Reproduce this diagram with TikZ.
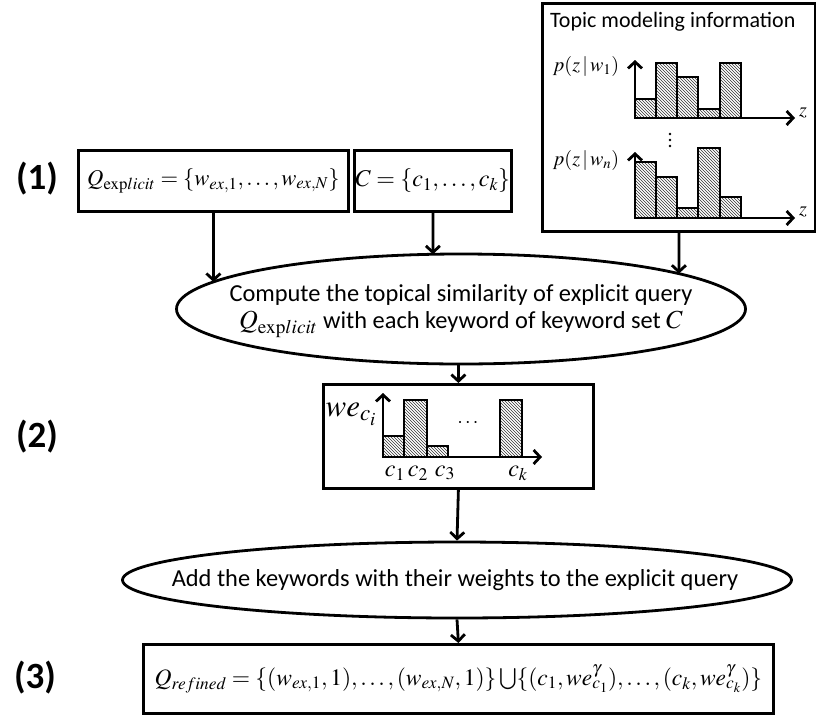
\documentclass[tikz,border=0pt]{standalone}
\usepackage{mathptmx}
\usepackage[no-math]{fontspec}
\setmainfont{Carlito}
\usetikzlibrary{arrows.meta,shapes.geometric,patterns,intersections}

\tikzset{
  flow/.style={line width=2.8pt,-{Straight Barb[length=6.5pt,width=14pt]}},
  axisline/.style={line width=2.8pt,-{Straight Barb[length=6.5pt,width=14pt]}},
  bar/.style={line width=2.4pt,pattern=north west lines,pattern color=black!80},
  framebox/.style={draw,line width=2.8pt,inner sep=0pt},
  oval/.style={draw,ellipse,line width=2.8pt,inner sep=0pt},
  steplabel/.style={font=\fontsize{37}{40}\selectfont\bfseries,inner sep=0pt},
  mathtext/.style={font=\fontsize{22.6}{27}\selectfont,inner sep=0pt},
  plaintext/.style={font=\fontsize{24.4}{29}\selectfont,inner sep=0pt},
  smallmath/.style={font=\fontsize{20}{24}\selectfont,inner sep=0pt},
  labelmath/.style={font=\fontsize{24}{28}\selectfont,inner sep=0pt},
}

\begin{document}
\begin{tikzpicture}[x=1pt,y=-1pt]
\useasboundingbox (0,0) rectangle (816,715);

% ---------- topic model panel ----------
\node[framebox,minimum width=273pt,minimum height=228pt,anchor=north west] (topic) at (541,2) {};
\node[font=\fontsize{22}{26}\selectfont,inner sep=0pt,anchor=west] (topictitle) at (550,22) {Topic modeling information};

% first word distribution
\draw[bar] (635,118) rectangle (656,99);
\draw[bar] (656,118) rectangle (677,63);
\draw[bar] (677,118) rectangle (698,77);
\draw[bar] (698,118) rectangle (720,109);
\draw[bar] (720,118) rectangle (741,63);
\coordinate (oA) at (635,118);
\coordinate (yA) at (635,60);
\coordinate (xA) at (795,118);
\draw[axisline] (oA) -- (yA);
\draw[axisline] (oA) -- (xA);
\node[smallmath] (pw1) at (586,66) {$p(z\,|\,w_{1})$};
\node[smallmath,anchor=west] (zA) at (799,113) {$z$};
% vertical ellipsis between the two distributions
\foreach \yy in {134,140,146} \fill (670,\yy) circle[radius=1.4pt];

% last word distribution
\draw[bar] (635,218) rectangle (656,162);
\draw[bar] (656,218) rectangle (677,177);
\draw[bar] (677,218) rectangle (698,208);
\draw[bar] (698,218) rectangle (720,148);
\draw[bar] (720,218) rectangle (741,197);
\coordinate (oB) at (635,218);
\coordinate (yB) at (635,152);
\coordinate (xB) at (795,218);
\draw[axisline] (oB) -- (yB);
\draw[axisline] (oB) -- (xB);
\node[smallmath] (pwn) at (586,160) {$p(z\,|\,w_{n})$};
\node[smallmath,anchor=west] (zB) at (799,212) {$z$};

% ---------- step (1) ----------
\node[steplabel] (s1) at (37,179) {(1)};
\node[framebox,minimum width=270pt,minimum height=61pt,anchor=north west] (qexp) at (77,149) {};
\node[mathtext] (qexptext) at (qexp) {$Q_{\mathrm{exp}licit}=\{w_{ex,1},\ldots,w_{ex,N}\}$};
\node[framebox,minimum width=157pt,minimum height=61pt,anchor=north west] (cset) at (353,149) {};
\node[font=\fontsize{24}{28}\selectfont,inner sep=0pt] (csettext) at (cset) {$C=\{c_{1},\ldots,c_{k}\}$};

\node[oval,minimum width=569pt,minimum height=110pt,name path=e1path] (e1) at (461,309) {};
\node[plaintext,align=center] (e1text) at (461,311)
  {Compute the topical similarity of explicit query\\[-2pt]
   {\fontsize{26}{26}\selectfont$Q_{\mathrm{exp}licit}$} with each keyword of keyword set {\fontsize{26}{26}\selectfont$C$}};

\path[name path=vq] (qexp.south) -- ++(0,150);
\path[name path=vc] (cset.south) -- ++(0,150);
\path[name path=vt] (topic.south) -- ++(0,150);
\draw[flow,name intersections={of=vq and e1path}] (qexp.south) -- (intersection-1);
\draw[flow,name intersections={of=vc and e1path}] (cset.south) -- (intersection-1);
\draw[flow,name intersections={of=vt and e1path}] (topic.south) -- (intersection-1);

% ---------- step (2) ----------
\node[steplabel] (s2) at (37,437) {(2)};
\node[framebox,minimum width=270pt,minimum height=104pt,anchor=north west] (b2) at (322,383) {};

\draw[bar] (383,457) rectangle (404,436);
\draw[bar] (404,457) rectangle (427,400);
\draw[bar] (427,457) rectangle (448,446);
\draw[bar] (500,457) rectangle (522,400);
\coordinate (oC) at (383,457);
\coordinate (yC) at (383,393);
\coordinate (xC) at (542,457);
\draw[axisline] (oC) -- (yC);
\draw[axisline] (oC) -- (xC);
\node[font=\fontsize{31}{34}\selectfont,inner sep=0pt] (wlabel) at (351,414) {$we_{c_{i}}$};
\node[smallmath] (dots) at (468,423) {$\cdots$};
\node[labelmath] (c1) at (395,473) {$c_{1}$};
\node[labelmath] (c2) at (418,473) {$c_{2}$};
\node[labelmath] (c3) at (445,473) {$c_{3}$};
\node[labelmath] (ck) at (518,473) {$c_{k}$};

\draw[flow] (b2.north |- e1.south) -- (b2.north);

\node[oval,minimum width=669pt,minimum height=76pt] (e2) at (457,580) {};
\node[plaintext] (e2text) at (455,580) {Add the keywords with their weights to the explicit query};
\draw[flow] (b2.south) -- (e2.north);

% ---------- step (3) ----------
\node[steplabel] (s3) at (35,678) {(3)};
\node[framebox,minimum width=630pt,minimum height=69pt,anchor=north west] (b3) at (142,643) {};
\node[font=\fontsize{23.5}{27}\selectfont,inner sep=0pt] (b3text) at (b3)
  {$Q_{refined}=\{(w_{ex,1},1),\ldots,(w_{ex,N},1)\}\bigcup\{(c_{1},we^{\gamma}_{c_{1}}),\ldots,(c_{k},we^{\gamma}_{c_{k}})\}$};
\draw[flow] (e2.south) -- (b3.north);

\end{tikzpicture}
\end{document}
